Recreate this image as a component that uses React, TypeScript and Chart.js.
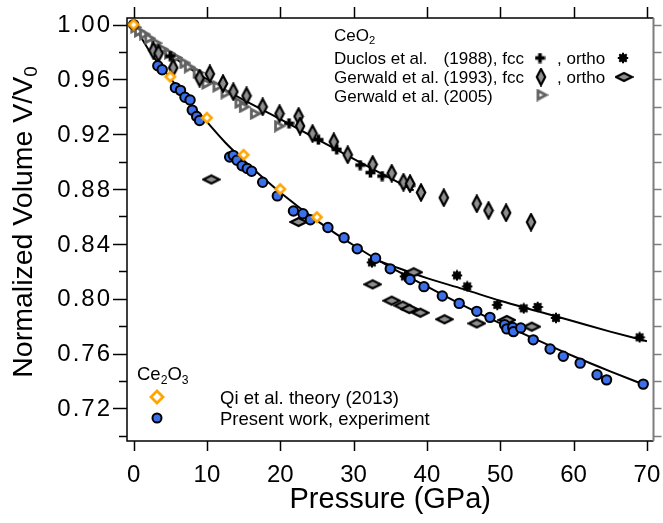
import React, { useEffect, useRef } from 'react';
import { Chart, registerables } from 'chart.js';
Chart.register(...registerables);

// ---------- axis ranges & ticks ----------
const X_MIN = -0.9;
const X_MAX = 70.9;
const Y_MIN = 0.6962;
const Y_MAX = 1.0048;
const xTicks = [0, 10, 20, 30, 40, 50, 60, 70];
const xTickLabels = ['0', '10', '20', '30', '40', '50', '60', '70'];
const yMajorTicks = [0.72, 0.76, 0.8, 0.84, 0.88, 0.92, 0.96, 1.0];
const yTickLabels = ['0.72', '0.76', '0.80', '0.84', '0.88', '0.92', '0.96', '1.00'];
const yMinorTicks = [0.7, 0.74, 0.78, 0.82, 0.86, 0.9, 0.94, 0.98];
const yRightTicks = [0.7, 0.72, 0.74, 0.76, 0.78, 0.8, 0.82, 0.84, 0.86, 0.88, 0.9, 0.92, 0.94, 0.96, 0.98, 1.0];

// ---------- data ----------
// Ce2O3, Qi et al. theory (2013)
const qiP = [0, 5, 10, 15, 20, 25];
const qiV = [1.0, 0.962, 0.932, 0.905, 0.88, 0.8595];

// Ce2O3, present work, experiment
const expP = [0, 3.3, 3.9, 5.7, 6.4, 7.0, 7.7, 8.0, 8.6, 9.0, 13.1, 13.6, 14.1, 14.8, 15.5, 16.1, 17.6, 19.6, 21.8, 23.1, 24.1, 26.5, 28.7, 30.5, 33.0, 35.0, 37.7, 39.6, 42.1, 44.4, 46.8, 48.6, 50.6, 50.9, 51.7, 51.8, 52.8, 54.5, 56.8, 58.6, 60.9, 63.2, 64.5, 69.5];
const expV = [1.0, 0.97, 0.967, 0.954, 0.952, 0.947, 0.945, 0.9376, 0.933, 0.93, 0.9034, 0.9046, 0.901, 0.897, 0.895, 0.893, 0.885, 0.875, 0.864, 0.862, 0.8576, 0.852, 0.8445, 0.8364, 0.8295, 0.8218, 0.814, 0.8088, 0.802, 0.7966, 0.7908, 0.7864, 0.781, 0.778, 0.779, 0.776, 0.7787, 0.77, 0.7633, 0.758, 0.753, 0.7445, 0.7408, 0.7377];

// CeO2, Duclos et al. (1988) fcc / ortho
const duclosFccP = [5.0, 21.2, 25.2, 27.7, 30.9, 32.3, 33.9, 36.8, 37.7];
const duclosFccV = [0.977, 0.928, 0.916, 0.909, 0.8975, 0.892, 0.8895, 0.8844, 0.8827];
const duclosOrthoP = [32.5, 37.0, 44.1, 45.5, 49.6, 53.2, 55.1, 57.6, 69.0];
const duclosOrthoV = [0.8265, 0.8163, 0.817, 0.809, 0.7955, 0.793, 0.794, 0.786, 0.7718];

// CeO2, Gerwald et al. (1993) fcc / ortho
const gerwaldFccP = [2.7, 3.4, 5.4, 9.0, 10.4, 12.2, 13.6, 15.4, 17.6, 19.9, 22.5, 22.7, 24.4, 27.3, 29.2, 32.6, 35.2, 36.8, 37.7, 39.2, 42.3, 46.8, 48.4, 50.8, 54.2];
const gerwaldFccV = [0.981, 0.979, 0.9685, 0.961, 0.964, 0.957, 0.951, 0.948, 0.94, 0.935, 0.933, 0.926, 0.9205, 0.9145, 0.905, 0.898, 0.8915, 0.885, 0.884, 0.8775, 0.8737, 0.8693, 0.8644, 0.8627, 0.8559];
const gerwaldOrthoP = [10.6, 22.5, 32.6, 35.2, 36.7, 37.6, 38.2, 39.1, 42.4, 46.8, 50.9, 54.3];
const gerwaldOrthoV = [0.887, 0.856, 0.8105, 0.7986, 0.795, 0.7925, 0.8193, 0.7898, 0.785, 0.782, 0.7845, 0.7796];

// CeO2, Gerwald et al. (2005)
const gerwald2005P = [0.3, 0.8, 1.5, 2.2, 3.1, 4.0, 4.9, 5.8, 7.0, 7.6, 8.8, 10.0, 11.5, 12.6, 14.5, 15.1, 16.6, 19.9];
const gerwald2005V = [0.998, 0.995, 0.993, 0.99, 0.9865, 0.982, 0.979, 0.976, 0.972, 0.969, 0.965, 0.957, 0.955, 0.95, 0.943, 0.94, 0.935, 0.926];

// fitted curves
const ce2o3FitP = [0, 2.5, 5, 7.5, 10, 12.5, 15, 17.5, 20, 25, 30, 35, 40, 45, 50, 55, 60, 65, 70];
const ce2o3FitV = [1.0, 0.978, 0.961, 0.944, 0.929, 0.914, 0.901, 0.889, 0.8775, 0.857, 0.839, 0.823, 0.809, 0.795, 0.782, 0.77, 0.758, 0.747, 0.7365];
const fccFitP = [0, 5, 10, 15, 20, 25, 30, 35, 38.2];
const fccFitV = [1.0, 0.978, 0.96, 0.945, 0.931, 0.9165, 0.902, 0.888, 0.879];
const orthoFitP = [32.7, 35, 40, 45, 50, 55, 60, 65, 70];
const orthoFitV = [0.829, 0.8245, 0.815, 0.807, 0.7985, 0.791, 0.7835, 0.776, 0.769];

const FONT = '"Liberation Sans", Arial, Helvetica, sans-serif';
const BLUE = '#3b70ea';

const xy = (xs: number[], ys: number[]) => xs.map((x, i) => ({ x, y: ys[i] }));

function makeCanvas(w: number, h: number, draw: (c: CanvasRenderingContext2D) => void) {
  const c = document.createElement('canvas');
  c.width = w;
  c.height = h;
  const ctx = c.getContext('2d')!;
  draw(ctx);
  return c;
}

function makeMarkers() {
  const vDiamond = makeCanvas(12, 19, (c) => {
    c.beginPath();
    c.moveTo(6, 1.5); c.lineTo(10.2, 9.5); c.lineTo(6, 17.5); c.lineTo(1.8, 9.5); c.closePath();
    c.fillStyle = '#8e8e8e'; c.fill();
    c.lineWidth = 2.2; c.strokeStyle = '#000'; c.stroke();
  });
  const hDiamond = makeCanvas(19, 12, (c) => {
    c.beginPath();
    c.moveTo(1.5, 6); c.lineTo(9.5, 2); c.lineTo(17.5, 6); c.lineTo(9.5, 10); c.closePath();
    c.fillStyle = '#8e8e8e'; c.fill();
    c.lineWidth = 2.2; c.strokeStyle = '#000'; c.stroke();
  });
  const triangle = makeCanvas(13, 13, (c) => {
    c.beginPath();
    c.moveTo(2.5, 2.2); c.lineTo(10.5, 6.5); c.lineTo(2.5, 10.8); c.closePath();
    c.fillStyle = '#ffffff'; c.fill();
    c.lineWidth = 2.8; c.lineJoin = 'miter'; c.strokeStyle = '#626262'; c.stroke();
  });
  const plus = makeCanvas(11, 11, (c) => {
    c.fillStyle = '#000';
    c.fillRect(0.5, 3.7, 10, 3.6);
    c.fillRect(3.7, 0.5, 3.6, 10);
  });
  const star = makeCanvas(12, 12, (c) => {
    c.fillStyle = '#000';
    c.beginPath(); c.arc(6, 6, 4.0, 0, Math.PI * 2); c.fill();
    c.strokeStyle = '#000'; c.lineWidth = 2.0; c.lineCap = 'butt';
    for (let k = 0; k < 4; k++) {
      const a = (k * Math.PI) / 4;
      c.beginPath();
      c.moveTo(6 - Math.cos(a) * 5.2, 6 - Math.sin(a) * 5.2);
      c.lineTo(6 + Math.cos(a) * 5.2, 6 + Math.sin(a) * 5.2);
      c.stroke();
    }
  });
  const orange = makeCanvas(14, 14, (c) => {
    c.beginPath();
    c.moveTo(7, 2.3); c.lineTo(11.7, 7); c.lineTo(7, 11.7); c.lineTo(2.3, 7); c.closePath();
    c.fillStyle = '#ffffff'; c.fill();
    c.lineWidth = 2.6; c.strokeStyle = '#ffa500'; c.stroke();
  });
  const orangeBig = makeCanvas(16, 16, (c) => {
    c.beginPath();
    c.moveTo(8, 2); c.lineTo(14, 8); c.lineTo(8, 14); c.lineTo(2, 8); c.closePath();
    c.fillStyle = '#ffffff'; c.fill();
    c.lineWidth = 2.8; c.strokeStyle = '#ffa500'; c.stroke();
  });
  return { vDiamond, hDiamond, triangle, plus, star, orange, orangeBig };
}

type Part = { t: string; sub?: boolean };

function drawRich(ctx: CanvasRenderingContext2D, parts: Part[], x: number, y: number, size: number, align: 'left' | 'center' = 'left') {
  const subSize = size * 0.66;
  let total = 0;
  for (const p of parts) {
    ctx.font = `${p.sub ? subSize : size}px ${FONT}`;
    total += ctx.measureText(p.t).width;
  }
  let cx = align === 'center' ? x - total / 2 : x;
  ctx.textAlign = 'left';
  ctx.textBaseline = 'alphabetic';
  for (const p of parts) {
    ctx.font = `${p.sub ? subSize : size}px ${FONT}`;
    ctx.fillText(p.t, cx, p.sub ? y + size * 0.2 : y);
    cx += ctx.measureText(p.t).width;
  }
}

export default function App() {
  const ref = useRef<HTMLCanvasElement | null>(null);

  useEffect(() => {
    document.body.style.margin = '0';
    const canvas = ref.current!;
    const m = makeMarkers();

    const axesPlugin = {
      id: 'customAxes',
      afterDraw(chart: any) {
        const ctx: CanvasRenderingContext2D = chart.ctx;
        const { left, right, top, bottom } = chart.chartArea;
        const xs = chart.scales.x;
        const ys = chart.scales.y;
        ctx.save();
        // frame
        ctx.strokeStyle = '#000';
        ctx.lineWidth = 1.5;
        ctx.beginPath();
        ctx.moveTo(right, bottom); ctx.lineTo(left, bottom); ctx.lineTo(left, top); ctx.lineTo(right, top);
        ctx.stroke();
        ctx.strokeStyle = '#7d7d7d';
        ctx.lineWidth = 2;
        ctx.beginPath(); ctx.moveTo(right, top); ctx.lineTo(right, bottom); ctx.stroke();

        // left ticks
        ctx.strokeStyle = '#000';
        ctx.lineWidth = 1.5;
        for (const v of yMajorTicks) {
          const y = Math.round(ys.getPixelForValue(v)) + 0.5;
          ctx.beginPath(); ctx.moveTo(left - 14, y); ctx.lineTo(left, y); ctx.stroke();
        }
        for (const v of yMinorTicks) {
          const y = Math.round(ys.getPixelForValue(v)) + 0.5;
          ctx.beginPath(); ctx.moveTo(left - 8, y); ctx.lineTo(left, y); ctx.stroke();
        }
        // bottom & top ticks
        for (const v of xTicks) {
          const x = Math.round(xs.getPixelForValue(v)) + 0.5;
          ctx.beginPath(); ctx.moveTo(x, bottom); ctx.lineTo(x, bottom + 10); ctx.stroke();
          ctx.beginPath(); ctx.moveTo(x, top); ctx.lineTo(x, top - 11); ctx.stroke();
        }
        // right ticks
        ctx.strokeStyle = '#7d7d7d';
        for (const v of yRightTicks) {
          const y = Math.round(ys.getPixelForValue(v)) + 0.5;
          ctx.beginPath(); ctx.moveTo(right, y); ctx.lineTo(right + 8, y); ctx.stroke();
        }

        // tick labels
        ctx.fillStyle = '#000';
        ctx.font = `24px ${FONT}`;
        ctx.textAlign = 'right';
        ctx.textBaseline = 'middle';
        (ctx as any).letterSpacing = '2px';
        yMajorTicks.forEach((v, i) => {
          ctx.fillText(yTickLabels[i], left - 15, ys.getPixelForValue(v) + 1);
        });
        (ctx as any).letterSpacing = '0px';
        ctx.textAlign = 'center';
        ctx.textBaseline = 'alphabetic';
        xTicks.forEach((v, i) => {
          ctx.fillText(xTickLabels[i], xs.getPixelForValue(v), 481.5);
        });

        // axis titles
        drawRich(ctx, [{ t: 'Pressure (GPa)' }], (left + right) / 2, 508, 29, 'center');
        ctx.save();
        ctx.translate(31.5, 222);
        ctx.rotate(-Math.PI / 2);
        drawRich(ctx, [{ t: 'Normalized Volume V/V' }, { t: '0', sub: true }], 0, 0, 28.5, 'center');
        ctx.restore();

        // CeO2 legend
        const lx = 334;
        drawRich(ctx, [{ t: 'CeO' }, { t: '2', sub: true }], lx, 41, 17);
        ctx.font = `17px ${FONT}`;
        ctx.textAlign = 'left';
        ctx.textBaseline = 'alphabetic';
        const yearX = lx + ctx.measureText('Gerwald et al. ').width;
        ctx.fillText('Duclos et al.', lx, 63.5);
        ctx.fillText('(1988), fcc', yearX, 63.5);
        ctx.fillText('Gerwald et al. (1993), fcc', lx, 82.5);
        ctx.fillText('Gerwald et al. (2005)', lx, 101.5);
        ctx.fillText(', ortho', 557, 63.5);
        ctx.fillText(', ortho', 557, 82.5);
        const img = (c: HTMLCanvasElement, x: number, y: number) => ctx.drawImage(c, x - c.width / 2, y - c.height / 2);
        img(m.plus, 540, 58);
        img(m.star, 623, 58);
        img(m.vDiamond, 541, 77);
        img(m.hDiamond, 624, 77);
        img(m.triangle, 542, 95);

        // Ce2O3 legend
        drawRich(ctx, [{ t: 'Ce' }, { t: '2', sub: true }, { t: 'O' }, { t: '3', sub: true }], 137, 380, 18.5);
        ctx.font = `18.5px ${FONT}`;
        ctx.textAlign = 'left';
        ctx.fillText('Qi et al. theory (2013)', 220, 403.5);
        ctx.fillText('Present work, experiment', 220, 424.5);
        img(m.orangeBig, 157, 397);
        ctx.beginPath();
        ctx.arc(157, 418, 4.5, 0, Math.PI * 2);
        ctx.fillStyle = BLUE;
        ctx.fill();
        ctx.lineWidth = 2;
        ctx.strokeStyle = '#000';
        ctx.stroke();
        ctx.restore();
      },
    };

    const lineDs = (xs: number[], ys: number[]) => ({
      data: xy(xs, ys),
      showLine: true,
      borderColor: '#000',
      borderWidth: 2,
      pointRadius: 0,
      cubicInterpolationMode: 'monotone' as const,
      fill: false,
      order: 20,
      clip: false as any,
    });
    const ptDs = (xs: number[], ys: number[], style: any, order: number) => ({
      data: xy(xs, ys),
      showLine: false,
      pointStyle: style,
      pointRadius: 5,
      order,
      clip: false as any,
    });

    const chart = new Chart(canvas, {
      type: 'scatter',
      data: {
        datasets: [
          lineDs(ce2o3FitP, ce2o3FitV),
          lineDs(fccFitP, fccFitV),
          lineDs(orthoFitP, orthoFitV),
          ptDs(gerwald2005P, gerwald2005V, m.triangle, 15),
          ptDs(duclosFccP, duclosFccV, m.plus, 14),
          ptDs(gerwaldFccP, gerwaldFccV, m.vDiamond, 13),
          ptDs(gerwaldOrthoP, gerwaldOrthoV, m.hDiamond, 12),
          ptDs(duclosOrthoP, duclosOrthoV, m.star, 11),
          {
            data: xy(expP, expV),
            showLine: false,
            pointStyle: 'circle',
            pointRadius: 4.7,
            borderWidth: 2,
            borderColor: '#000',
            backgroundColor: BLUE,
            order: 5,
            clip: false as any,
          },
          ptDs(qiP, qiV, m.orange, 2),
        ] as any,
      },
      options: {
        animation: false,
        responsive: false,
        devicePixelRatio: 1,
        events: [],
        layout: { padding: { left: 127, right: 9.5, top: 18, bottom: 82 } },
        scales: {
          x: { type: 'linear', min: X_MIN, max: X_MAX, display: false },
          y: { type: 'linear', min: Y_MIN, max: Y_MAX, display: false },
        },
        plugins: { legend: { display: false }, tooltip: { enabled: false } },
      },
      plugins: [axesPlugin],
    });
    return () => chart.destroy();
  }, []);

  return <canvas ref={ref} width={663} height={523} style={{ display: 'block', width: 663, height: 523 }} />;
}
